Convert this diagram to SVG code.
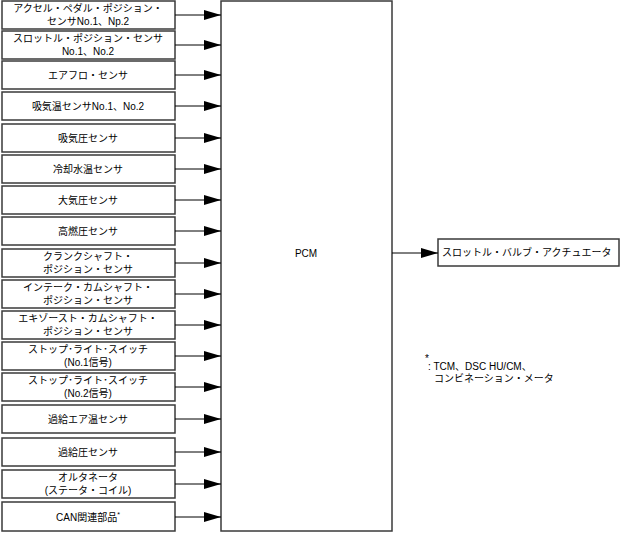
<svg xmlns="http://www.w3.org/2000/svg" width="620" height="533" viewBox="0 0 620 533">
<defs>
<style>
.b{fill:#fff;stroke:#3a3a3a;stroke-width:1.5}
.t{font-family:"Liberation Sans","Noto Sans CJK JP",sans-serif;font-size:10px;fill:#000;text-anchor:middle}
.f{font-family:"Liberation Sans","Noto Sans CJK JP",sans-serif;font-size:10px;fill:#000}
.c{stroke:#000;stroke-width:1;fill:none;marker-end:url(#ah)}
</style>
<marker id="ah" markerUnits="userSpaceOnUse" markerWidth="18" markerHeight="11" refX="17" refY="5" orient="auto">
<path d="M0,0 L17,5 L0,10 z" fill="#000"/>
</marker>
</defs>
<rect width="620" height="533" fill="#fff"/>
<g id="pcm"><rect class="b" x="221" y="1" width="171" height="530"/><text class="t" x="306" y="257">PCM</text></g>
<g id="n1"><rect class="b" x="2" y="1" width="173" height="28"/><text class="t" x="88" y="12">アクセル・ペダル・ポジション・</text><text class="t" x="88" y="25">センサNo.1、Np.2</text></g>
<g id="n2"><rect class="b" x="2" y="31" width="173" height="28"/><text class="t" x="88" y="42">スロットル・ポジション・センサ</text><text class="t" x="88" y="55">No.1、No.2</text></g>
<g id="n3"><rect class="b" x="2" y="61" width="173" height="28"/><text class="t" x="88" y="79">エアフロ・センサ</text></g>
<g id="n4"><rect class="b" x="2" y="92" width="173" height="28"/><text class="t" x="88" y="110">吸気温センサNo.1、No.2</text></g>
<g id="n5"><rect class="b" x="2" y="124" width="173" height="28"/><text class="t" x="88" y="142">吸気圧センサ</text></g>
<g id="n6"><rect class="b" x="2" y="155" width="173" height="28"/><text class="t" x="88" y="173">冷却水温センサ</text></g>
<g id="n7"><rect class="b" x="2" y="186" width="173" height="28"/><text class="t" x="88" y="204">大気圧センサ</text></g>
<g id="n8"><rect class="b" x="2" y="217" width="173" height="28"/><text class="t" x="88" y="235">高燃圧センサ</text></g>
<g id="n9"><rect class="b" x="2" y="249" width="173" height="28"/><text class="t" x="88" y="260">クランクシャフト・</text><text class="t" x="88" y="273">ポジション・センサ</text></g>
<g id="n10"><rect class="b" x="2" y="280" width="173" height="28"/><text class="t" x="88" y="291">インテーク・カムシャフト・</text><text class="t" x="88" y="304">ポジション・センサ</text></g>
<g id="n11"><rect class="b" x="2" y="311" width="173" height="28"/><text class="t" x="88" y="322">エキゾースト・カムシャフト・</text><text class="t" x="88" y="335">ポジション・センサ</text></g>
<g id="n12"><rect class="b" x="2" y="342" width="173" height="28"/><text class="t" x="88" y="353">ストップ･ライト･スイッチ</text><text class="t" x="88" y="366">(No.1信号)</text></g>
<g id="n13"><rect class="b" x="2" y="373" width="173" height="28"/><text class="t" x="88" y="384">ストップ･ライト･スイッチ</text><text class="t" x="88" y="397">(No.2信号)</text></g>
<g id="n14"><rect class="b" x="2" y="405" width="173" height="28"/><text class="t" x="88" y="423">過給エア温センサ</text></g>
<g id="n15"><rect class="b" x="2" y="438" width="173" height="28"/><text class="t" x="88" y="456">過給圧センサ</text></g>
<g id="n16"><rect class="b" x="2" y="470" width="173" height="28"/><text class="t" x="88" y="481">オルタネータ</text><text class="t" x="88" y="494">(ステータ・コイル)</text></g>
<g id="n17"><rect class="b" x="2" y="502" width="173" height="29"/><text class="t" x="88" y="521">CAN関連部品<tspan font-size="7" dy="-4">*</tspan></text></g>
<g id="act"><rect class="b" x="438" y="239" width="181" height="27" stroke-width="1.2"/><text class="f" x="442" y="256">スロットル・バルブ・アクチュエータ</text></g>
<g id="note"><text class="f" x="425" y="362" font-size="7">*</text><text class="f" x="428" y="370">: TCM、DSC HU/CM、</text><text class="f" x="434" y="382">コンビネーション・メータ</text></g>
<g id="connectors">
<path class="c" d="M175,15 H221"/>
<path class="c" d="M175,45 H221"/>
<path class="c" d="M175,75 H221"/>
<path class="c" d="M175,106 H221"/>
<path class="c" d="M175,138 H221"/>
<path class="c" d="M175,169 H221"/>
<path class="c" d="M175,200 H221"/>
<path class="c" d="M175,231 H221"/>
<path class="c" d="M175,263 H221"/>
<path class="c" d="M175,294 H221"/>
<path class="c" d="M175,325 H221"/>
<path class="c" d="M175,356 H221"/>
<path class="c" d="M175,387 H221"/>
<path class="c" d="M175,419 H221"/>
<path class="c" d="M175,452 H221"/>
<path class="c" d="M175,484 H221"/>
<path class="c" d="M175,517 H221"/>
<path class="c" d="M392,253 H438"/>
</g>
</svg>
